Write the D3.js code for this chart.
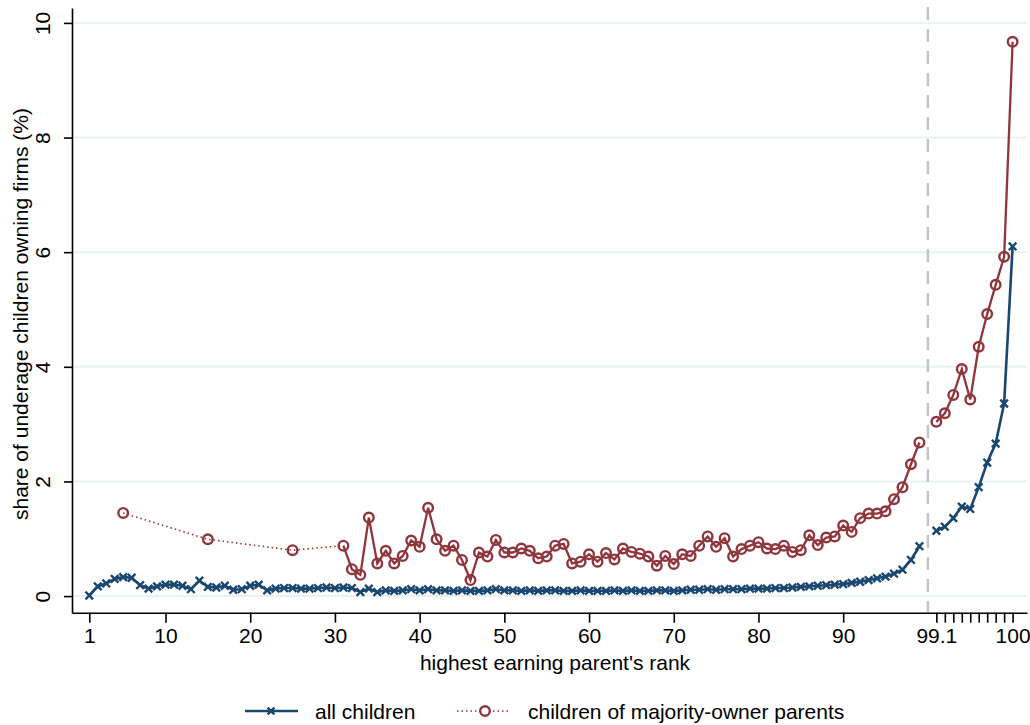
<!DOCTYPE html>
<html>
<head>
<meta charset="utf-8">
<script src="https://cdn.jsdelivr.net/npm/d3@7"></script>
<style>
  html, body { margin: 0; padding: 0; background: #fff; }
  svg { display: block; font-family: "Liberation Sans", Arial, sans-serif; }
</style>
</head>
<body>
<svg width="1030" height="725"></svg>
<script>
// --- DATA ---
// ranks 1..99, then the top percentile split into tenths
const ranks = d3.range(1, 100);
const topRanks = [99.1, 99.2, 99.3, 99.4, 99.5, 99.6, 99.7, 99.8, 99.9, 100];

const allChildren = [
  0.01, 0.17, 0.22, 0.30, 0.33, 0.32, 0.19, 0.13, 0.17, 0.20,
  0.20, 0.18, 0.12, 0.27, 0.16, 0.15, 0.18, 0.11, 0.12, 0.18,
  0.20, 0.10, 0.13, 0.14, 0.14, 0.13, 0.13, 0.14, 0.15, 0.14,
  0.15, 0.14, 0.07, 0.13, 0.07, 0.10, 0.09, 0.10, 0.12, 0.10,
  0.12, 0.10, 0.10, 0.09, 0.10, 0.09, 0.09, 0.10, 0.12, 0.10,
  0.10, 0.09, 0.10, 0.09, 0.10, 0.10, 0.09, 0.09, 0.10, 0.09,
  0.09, 0.09, 0.10, 0.09, 0.10, 0.09, 0.09, 0.10, 0.10, 0.09,
  0.10, 0.11, 0.11, 0.12, 0.11, 0.12, 0.12, 0.12, 0.13, 0.13,
  0.13, 0.14, 0.14, 0.15, 0.16, 0.17, 0.18, 0.19, 0.20, 0.21,
  0.23, 0.25, 0.28, 0.31, 0.34, 0.39, 0.46, 0.63, 0.87
];
const allChildrenTop = [1.14, 1.21, 1.36, 1.56, 1.52, 1.90, 2.33, 2.66, 3.36, 6.10];

// majority-owner parents: pooled bins below rank 31, then one point per rank
const ownerPooledRanks = [5, 15, 25];
const ownerPooled = [1.45, 0.99, 0.80];
const ownerRanks = d3.range(31, 100);
const owner = [
  0.88, 0.47, 0.37, 1.37, 0.57, 0.79, 0.57, 0.70, 0.97, 0.86,
  1.54, 0.99, 0.79, 0.88, 0.63, 0.28, 0.76, 0.69, 0.98, 0.76,
  0.76, 0.83, 0.79, 0.66, 0.69, 0.88, 0.91, 0.57, 0.60, 0.73,
  0.60, 0.75, 0.64, 0.83, 0.77, 0.74, 0.69, 0.53, 0.70, 0.56,
  0.73, 0.70, 0.88, 1.04, 0.86, 1.01, 0.69, 0.82, 0.88, 0.94,
  0.83, 0.82, 0.88, 0.77, 0.80, 1.06, 0.89, 1.02, 1.04, 1.23,
  1.12, 1.36, 1.44, 1.44, 1.48, 1.69, 1.90, 2.30, 2.68
];
const ownerTop = [3.04, 3.19, 3.51, 3.96, 3.43, 4.35, 4.92, 5.43, 5.92, 9.67];

const xTickRanks = [1, 10, 20, 30, 40, 50, 60, 70, 80, 90, 99.1, 100];
const xTickLabels = ["1", "10", "20", "30", "40", "50", "60", "70", "80", "90", "99.1", "100"];
const xMinorRanks = [99.2, 99.3, 99.4, 99.5, 99.6, 99.7, 99.8, 99.9];
const yTicks = [0, 2, 4, 6, 8, 10];

const blue = "#1a476f";
const red = "#90353b";
const fontSize = 21;

// rank -> position on the broken axis (tenths of the top percentile get one slot each)
const slot = r => r <= 99 ? r : 100 + Math.round((r - 99) * 10);

// --- SCALES ---
const svg = d3.select("svg");
const x = d3.scaleLinear().domain([-1.04, 111.7]).range([72, 1027]);
const y = d3.scaleLinear().domain([-0.29, 10.26]).range([612.7, 8]);

// --- GRID ---
svg.append("g")
  .selectAll("line")
  .data(yTicks)
  .join("line")
  .attr("x1", 72).attr("x2", 1027)
  .attr("y1", d => y(d)).attr("y2", d => y(d))
  .attr("stroke", "#eaf1f3")
  .attr("stroke-width", 2);

// break between rank 99 and the top percentile
svg.append("line")
  .attr("x1", x(100)).attr("x2", x(100))
  .attr("y1", 7).attr("y2", 612)
  .attr("stroke", "#c4c4c4")
  .attr("stroke-width", 2.5)
  .attr("stroke-dasharray", "13,9");

// --- AXES ---
svg.append("g")
  .attr("transform", "translate(0,612.7)")
  .call(d3.axisBottom(x)
    .tickValues(xTickRanks.map(slot))
    .tickFormat((d, i) => xTickLabels[i])
    .tickSize(10)
    .tickSizeOuter(0)
    .tickPadding(5));

svg.append("g")
  .attr("transform", "translate(0,612.7)")
  .call(d3.axisBottom(x)
    .tickValues(xMinorRanks.map(slot))
    .tickFormat("")
    .tickSize(10)
    .tickSizeOuter(0))
  .call(g => g.select(".domain").remove());

const yAxis = svg.append("g")
  .attr("transform", "translate(72,0)")
  .call(d3.axisLeft(y)
    .tickValues(yTicks)
    .tickSize(8)
    .tickSizeOuter(0));

yAxis.selectAll(".tick text")
  .attr("transform", "rotate(-90)")
  .attr("x", 0)
  .attr("y", -22)
  .attr("dy", 0)
  .attr("text-anchor", "middle");

svg.selectAll(".domain, .tick line")
  .attr("stroke", "#000")
  .attr("stroke-width", 1.6);
svg.selectAll(".tick text")
  .attr("font-size", fontSize)
  .attr("font-family", "Liberation Sans, Arial, sans-serif")
  .attr("fill", "#000");

// axis titles
svg.append("text")
  .attr("x", 555).attr("y", 670)
  .attr("text-anchor", "middle")
  .attr("font-size", fontSize)
  .text("highest earning parent's rank");

svg.append("text")
  .attr("transform", "translate(28,314) rotate(-90)")
  .attr("text-anchor", "middle")
  .attr("font-size", fontSize)
  .text("share of underage children owning firms (%)");

// --- SERIES ---
const line = d3.line().x(d => x(slot(d[0]))).y(d => y(d[1]));

const blueLow = ranks.map((r, i) => [r, allChildren[i]]);
const blueTop = topRanks.map((r, i) => [r, allChildrenTop[i]]);
const redPooled = ownerPooledRanks.map((r, i) => [r, ownerPooled[i]]).concat([[ownerRanks[0], owner[0]]]);
const redLow = ownerRanks.map((r, i) => [r, owner[i]]);
const redTop = topRanks.map((r, i) => [r, ownerTop[i]]);

function xMark(g, cx, cy, s) {
  g.append("path")
    .attr("d", `M${cx - s},${cy - s}L${cx + s},${cy + s}M${cx - s},${cy + s}L${cx + s},${cy - s}`)
    .attr("stroke", blue)
    .attr("stroke-width", 2.4)
    .attr("fill", "none");
}

const plot = svg.append("g");

// children of majority-owner parents
plot.append("path")
  .attr("d", line(redPooled))
  .attr("fill", "none")
  .attr("stroke", red)
  .attr("stroke-width", 1.6)
  .attr("stroke-dasharray", "1.5,3");

[redLow, redTop].forEach(seg => {
  plot.append("path")
    .attr("d", line(seg))
    .attr("fill", "none")
    .attr("stroke", red)
    .attr("stroke-width", 2.3);
});

plot.append("g")
  .selectAll("circle")
  .data(ownerPooledRanks.map((r, i) => [r, ownerPooled[i]]).concat(redLow, redTop))
  .join("circle")
  .attr("cx", d => x(slot(d[0])))
  .attr("cy", d => y(d[1]))
  .attr("r", 4.8)
  .attr("fill", "none")
  .attr("stroke", red)
  .attr("stroke-width", 2.4);

// all children
[blueLow, blueTop].forEach(seg => {
  plot.append("path")
    .attr("d", line(seg))
    .attr("fill", "none")
    .attr("stroke", blue)
    .attr("stroke-width", 2.6);
});

const blueMarks = plot.append("g");
blueLow.concat(blueTop).forEach(d => xMark(blueMarks, x(slot(d[0])), y(d[1]), 3.8));

// --- LEGEND ---
const legend = svg.append("g").attr("font-size", fontSize);
const ly = 711;

legend.append("line")
  .attr("x1", 245).attr("x2", 298)
  .attr("y1", ly).attr("y2", ly)
  .attr("stroke", blue)
  .attr("stroke-width", 2.6);
xMark(legend, 271, ly, 3.4);
legend.append("text")
  .attr("x", 315).attr("y", ly + 7.5)
  .text("all children");

legend.append("line")
  .attr("x1", 457).attr("x2", 508)
  .attr("y1", ly).attr("y2", ly)
  .attr("stroke", red)
  .attr("stroke-width", 1.6)
  .attr("stroke-dasharray", "1.5,3");
legend.append("circle")
  .attr("cx", 485).attr("cy", ly)
  .attr("r", 4.8)
  .attr("fill", "#fff")
  .attr("stroke", red)
  .attr("stroke-width", 2.4);
legend.append("text")
  .attr("x", 528).attr("y", ly + 7.5)
  .text("children of majority-owner parents");
</script>
</body>
</html>
